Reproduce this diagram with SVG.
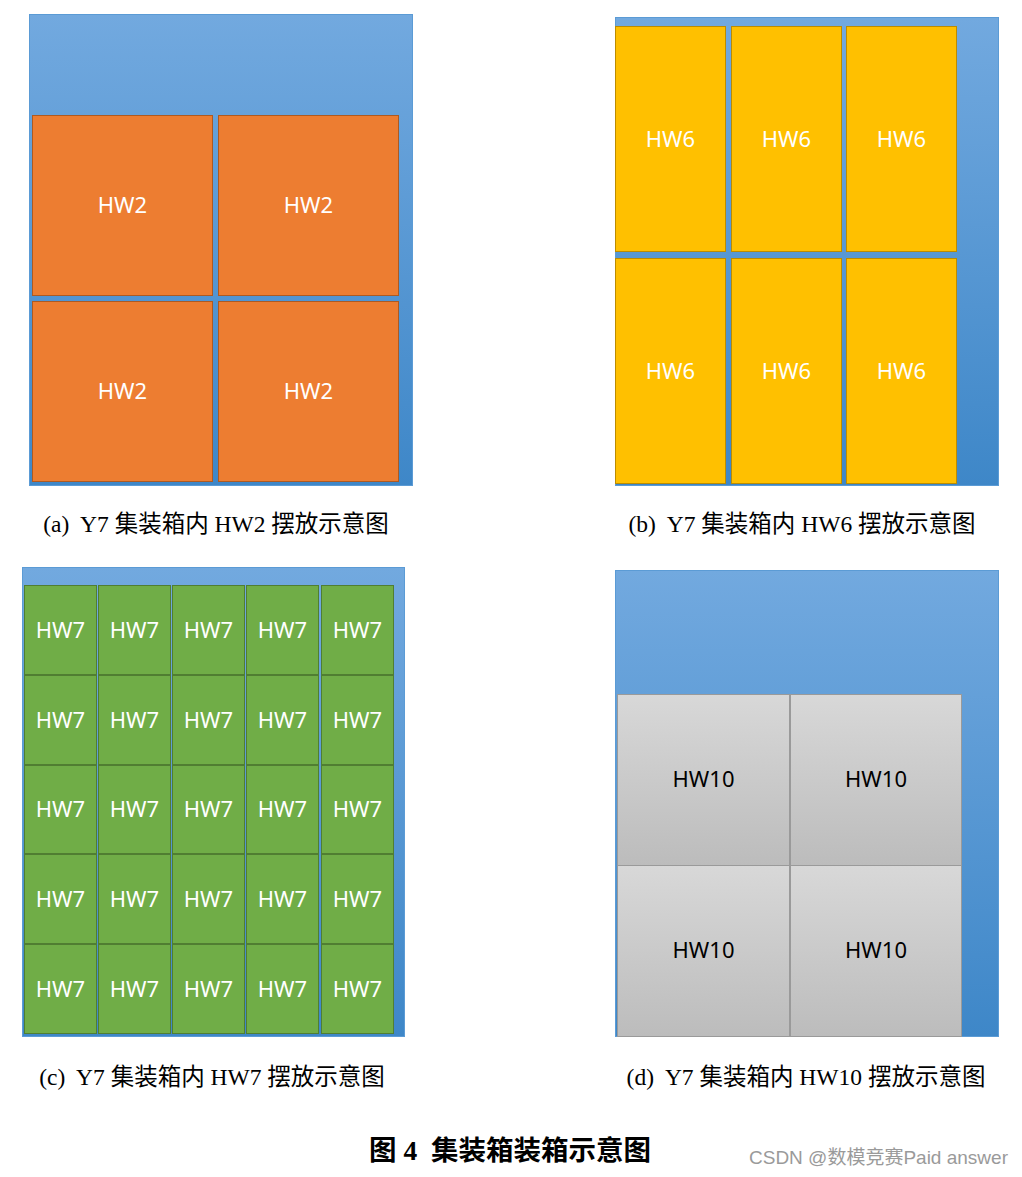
<svg xmlns="http://www.w3.org/2000/svg" width="1022" height="1177" viewBox="0 0 1022 1177">
<defs>
<linearGradient id="blue" x1="0" y1="0" x2="0" y2="1">
<stop offset="0" stop-color="#72a9df"/>
<stop offset="1" stop-color="#3e87c8"/>
</linearGradient>
<linearGradient id="gray" x1="0" y1="0" x2="0" y2="1">
<stop offset="0" stop-color="#d8d8d8"/>
<stop offset="1" stop-color="#bcbcbc"/>
</linearGradient>
</defs>
<style>
.bg{fill:url(#blue);stroke:#5b9bd5;stroke-width:1}
.o{fill:#ed7d31;stroke:#ae5a21;stroke-width:1}
.y{fill:#ffc000;stroke:#bc8c00;stroke-width:1}
.g{fill:#70ad47;stroke:#507e32;stroke-width:1}
.s{fill:url(#gray);stroke:#9a9a9a;stroke-width:1}
.l{font-family:"Noto Sans","Open Sans",sans-serif;font-size:22px;fill:#fff;text-anchor:middle;dominant-baseline:central}
.k{fill:#000}
.cap{font-family:"Liberation Serif","Noto Sans CJK SC",serif;font-size:23.5px;fill:#000;text-anchor:middle;white-space:pre}
.title{font-family:"Liberation Serif","Noto Sans CJK SC",serif;font-size:27.5px;font-weight:bold;fill:#000;text-anchor:middle;white-space:pre}
.wm{font-family:"Liberation Sans","Noto Sans CJK SC",sans-serif;font-size:19px;fill:#9a9a9a}
</style>

<g id="panel-a">
<rect class="bg" x="29.5" y="14.5" width="383" height="471"/>
<g id="a1"><rect class="o" x="32.5" y="115.5" width="180" height="180"/><text class="l" x="122.5" y="204">HW2</text></g>
<g id="a2"><rect class="o" x="218.5" y="115.5" width="180" height="180"/><text class="l" x="308.5" y="204">HW2</text></g>
<g id="a3"><rect class="o" x="32.5" y="301.5" width="180" height="180"/><text class="l" x="122.5" y="390">HW2</text></g>
<g id="a4"><rect class="o" x="218.5" y="301.5" width="180" height="180"/><text class="l" x="308.5" y="390">HW2</text></g>
<text class="cap" x="216" y="532" xml:space="preserve">(a)  Y7 集装箱内 HW2 摆放示意图</text>
</g>

<g id="panel-b">
<rect class="bg" x="615.5" y="17.5" width="383" height="468"/>
<g id="b1"><rect class="y" x="615.5" y="26.5" width="110" height="225"/><text class="l" x="670.5" y="138">HW6</text></g>
<g id="b2"><rect class="y" x="731.5" y="26.5" width="110" height="225"/><text class="l" x="786.5" y="138">HW6</text></g>
<g id="b3"><rect class="y" x="846.5" y="26.5" width="110" height="225"/><text class="l" x="901.5" y="138">HW6</text></g>
<g id="b4"><rect class="y" x="615.5" y="258.5" width="110" height="225"/><text class="l" x="670.5" y="370">HW6</text></g>
<g id="b5"><rect class="y" x="731.5" y="258.5" width="110" height="225"/><text class="l" x="786.5" y="370">HW6</text></g>
<g id="b6"><rect class="y" x="846.5" y="258.5" width="110" height="225"/><text class="l" x="901.5" y="370">HW6</text></g>
<text class="cap" x="802" y="532" xml:space="preserve">(b)  Y7 集装箱内 HW6 摆放示意图</text>
</g>

<g id="panel-c">
<rect class="bg" x="22.5" y="567.5" width="382" height="469"/>
<g id="c-r1">
<g><rect class="g" x="24.5" y="585.5" width="72" height="89"/><text class="l" x="60.5" y="629">HW7</text></g>
<g><rect class="g" x="98.5" y="585.5" width="72" height="89"/><text class="l" x="134.5" y="629">HW7</text></g>
<g><rect class="g" x="172.5" y="585.5" width="72" height="89"/><text class="l" x="208.5" y="629">HW7</text></g>
<g><rect class="g" x="246.5" y="585.5" width="72" height="89"/><text class="l" x="282.5" y="629">HW7</text></g>
<g><rect class="g" x="321.5" y="585.5" width="72" height="89"/><text class="l" x="357.5" y="629">HW7</text></g>
</g>
<g id="c-r2">
<g><rect class="g" x="24.5" y="675.5" width="72" height="89"/><text class="l" x="60.5" y="719">HW7</text></g>
<g><rect class="g" x="98.5" y="675.5" width="72" height="89"/><text class="l" x="134.5" y="719">HW7</text></g>
<g><rect class="g" x="172.5" y="675.5" width="72" height="89"/><text class="l" x="208.5" y="719">HW7</text></g>
<g><rect class="g" x="246.5" y="675.5" width="72" height="89"/><text class="l" x="282.5" y="719">HW7</text></g>
<g><rect class="g" x="321.5" y="675.5" width="72" height="89"/><text class="l" x="357.5" y="719">HW7</text></g>
</g>
<g id="c-r3">
<g><rect class="g" x="24.5" y="765.5" width="72" height="88"/><text class="l" x="60.5" y="808">HW7</text></g>
<g><rect class="g" x="98.5" y="765.5" width="72" height="88"/><text class="l" x="134.5" y="808">HW7</text></g>
<g><rect class="g" x="172.5" y="765.5" width="72" height="88"/><text class="l" x="208.5" y="808">HW7</text></g>
<g><rect class="g" x="246.5" y="765.5" width="72" height="88"/><text class="l" x="282.5" y="808">HW7</text></g>
<g><rect class="g" x="321.5" y="765.5" width="72" height="88"/><text class="l" x="357.5" y="808">HW7</text></g>
</g>
<g id="c-r4">
<g><rect class="g" x="24.5" y="854.5" width="72" height="89"/><text class="l" x="60.5" y="898">HW7</text></g>
<g><rect class="g" x="98.5" y="854.5" width="72" height="89"/><text class="l" x="134.5" y="898">HW7</text></g>
<g><rect class="g" x="172.5" y="854.5" width="72" height="89"/><text class="l" x="208.5" y="898">HW7</text></g>
<g><rect class="g" x="246.5" y="854.5" width="72" height="89"/><text class="l" x="282.5" y="898">HW7</text></g>
<g><rect class="g" x="321.5" y="854.5" width="72" height="89"/><text class="l" x="357.5" y="898">HW7</text></g>
</g>
<g id="c-r5">
<g><rect class="g" x="24.5" y="944.5" width="72" height="89"/><text class="l" x="60.5" y="988">HW7</text></g>
<g><rect class="g" x="98.5" y="944.5" width="72" height="89"/><text class="l" x="134.5" y="988">HW7</text></g>
<g><rect class="g" x="172.5" y="944.5" width="72" height="89"/><text class="l" x="208.5" y="988">HW7</text></g>
<g><rect class="g" x="246.5" y="944.5" width="72" height="89"/><text class="l" x="282.5" y="988">HW7</text></g>
<g><rect class="g" x="321.5" y="944.5" width="72" height="89"/><text class="l" x="357.5" y="988">HW7</text></g>
</g>
<text class="cap" x="212" y="1085" xml:space="preserve">(c)  Y7 集装箱内 HW7 摆放示意图</text>
</g>

<g id="panel-d">
<rect class="bg" x="615.5" y="570.5" width="383" height="466"/>
<g id="d1"><rect class="s" x="617.5" y="694.5" width="172" height="171"/><text class="l k" x="703.5" y="778">HW10</text></g>
<g id="d2"><rect class="s" x="790.5" y="694.5" width="171" height="171"/><text class="l k" x="876" y="778">HW10</text></g>
<g id="d3"><rect class="s" x="617.5" y="865.5" width="172" height="171"/><text class="l k" x="703.5" y="949">HW10</text></g>
<g id="d4"><rect class="s" x="790.5" y="865.5" width="171" height="171"/><text class="l k" x="876" y="949">HW10</text></g>
<text class="cap" x="806" y="1085" xml:space="preserve">(d)  Y7 集装箱内 HW10 摆放示意图</text>
</g>

<g id="connectors"></g>

<text class="title" x="510" y="1160" xml:space="preserve">图 4  集装箱装箱示意图</text>
<text class="wm" x="749" y="1164">CSDN @数模竞赛Paid answer</text>
</svg>
